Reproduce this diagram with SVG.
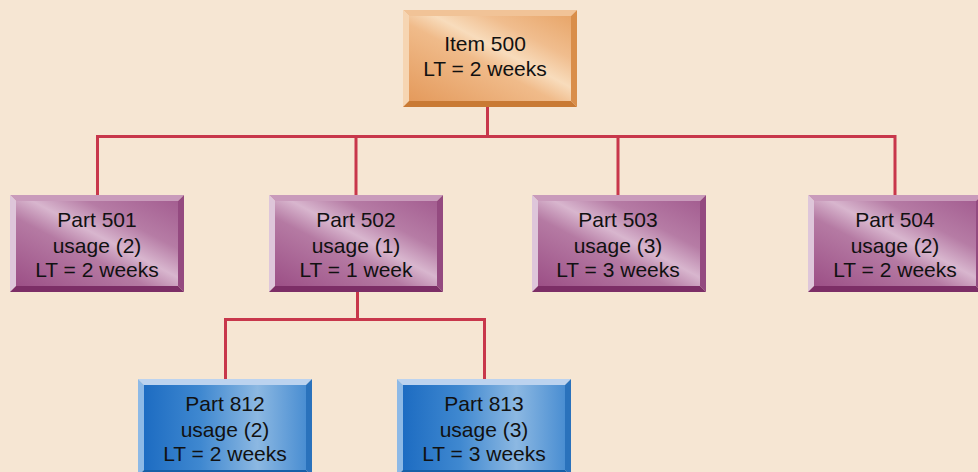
<svg xmlns="http://www.w3.org/2000/svg" xmlns:xlink="http://www.w3.org/1999/xlink" width="978" height="472" viewBox="0 0 978 472">
<style>
  text { font-family: "Liberation Sans", Arial, sans-serif; font-size: 21px; fill: #111111; text-anchor: middle; }
  .conn { fill: none; stroke: #c8374b; stroke-width: 3; }
</style>
<defs>
  <linearGradient id="gOr" x1="0" y1="1" x2="1" y2="0">
    <stop offset="0" stop-color="#e49a5c"/>
    <stop offset="0.45" stop-color="#f0bb8a"/>
    <stop offset="0.58" stop-color="#f8dcbc"/>
    <stop offset="0.75" stop-color="#f0bd8e"/>
    <stop offset="1" stop-color="#e8a66a"/>
  </linearGradient>
  <linearGradient id="gPu" x1="0" y1="1" x2="1" y2="0">
    <stop offset="0" stop-color="#9c4f86"/>
    <stop offset="0.4" stop-color="#b57aa3"/>
    <stop offset="0.55" stop-color="#d8b6ce"/>
    <stop offset="0.72" stop-color="#b67ca5"/>
    <stop offset="1" stop-color="#a45e91"/>
  </linearGradient>
  <linearGradient id="gBl" x1="0" y1="0" x2="1" y2="0">
    <stop offset="0" stop-color="#1d6cc2"/>
    <stop offset="0.35" stop-color="#3f88d0"/>
    <stop offset="0.7" stop-color="#8cb8e2"/>
    <stop offset="1" stop-color="#4a8ed2"/>
  </linearGradient>
  <g id="boxOr">
    <rect x="6" y="6" width="162" height="85" fill="url(#gOr)"/>
    <polygon points="0,0 174,0 168,6 6,6" fill="#f1c397"/>
    <polygon points="0,0 6,6 6,91 0,97" fill="#f6d5b2"/>
    <polygon points="174,0 174,97 168,91 168,6" fill="#d98e4a"/>
    <polygon points="0,97 174,97 168,91 6,91" fill="#c97a34"/>
  </g>
  <g id="boxPu">
    <rect x="6" y="6" width="162" height="85" fill="url(#gPu)"/>
    <polygon points="0,0 174,0 168,6 6,6" fill="#c99bbb"/>
    <polygon points="0,0 6,6 6,91 0,97" fill="#dec6da"/>
    <polygon points="174,0 174,97 168,91 168,6" fill="#944a80"/>
    <polygon points="0,97 174,97 168,91 6,91" fill="#7c2e66"/>
  </g>
  <g id="boxBl">
    <rect x="6" y="6" width="162" height="85" fill="url(#gBl)"/>
    <polygon points="0,0 174,0 168,6 6,6" fill="#bcd3ef"/>
    <polygon points="0,0 6,6 6,91 0,97" fill="#8db9e6"/>
    <polygon points="174,0 174,97 168,91 168,6" fill="#2a72bc"/>
    <polygon points="0,97 174,97 168,91 6,91" fill="#155fa8"/>
  </g>
</defs>
<rect width="978" height="472" fill="#f6e6d3"/>
<g id="connectors">
  <path class="conn" d="M487.5,107 V136.5 M97.5,195 V136.5 H895 V195 M356,136.5 V195 M618,136.5 V195"/>
  <path class="conn" d="M357.5,292 V319.5 M225.5,379 V319.5 H484.5 V379"/>
</g>
<g id="item500">
  <use xlink:href="#boxOr" transform="translate(403,10)"/>
  <text x="485" y="51">Item 500</text>
  <text x="485" y="76">LT = 2 weeks</text>
</g>
<g id="part501">
  <use xlink:href="#boxPu" transform="translate(10,195)"/>
  <text x="97" y="227">Part 501</text>
  <text x="97" y="253">usage (2)</text>
  <text x="97" y="277">LT = 2 weeks</text>
</g>
<g id="part502">
  <use xlink:href="#boxPu" transform="translate(269,195)"/>
  <text x="356" y="227">Part 502</text>
  <text x="356" y="253">usage (1)</text>
  <text x="356" y="277">LT = 1 week</text>
</g>
<g id="part503">
  <use xlink:href="#boxPu" transform="translate(532,195)"/>
  <text x="618" y="227">Part 503</text>
  <text x="618" y="253">usage (3)</text>
  <text x="618" y="277">LT = 3 weeks</text>
</g>
<g id="part504">
  <use xlink:href="#boxPu" transform="translate(808,195)"/>
  <text x="895" y="227">Part 504</text>
  <text x="895" y="253">usage (2)</text>
  <text x="895" y="277">LT = 2 weeks</text>
</g>
<g id="part812">
  <use xlink:href="#boxBl" transform="translate(138,379)"/>
  <text x="225" y="411">Part 812</text>
  <text x="225" y="437">usage (2)</text>
  <text x="225" y="461">LT = 2 weeks</text>
</g>
<g id="part813">
  <use xlink:href="#boxBl" transform="translate(397,379)"/>
  <text x="484" y="411">Part 813</text>
  <text x="484" y="437">usage (3)</text>
  <text x="484" y="461">LT = 3 weeks</text>
</g>
</svg>
